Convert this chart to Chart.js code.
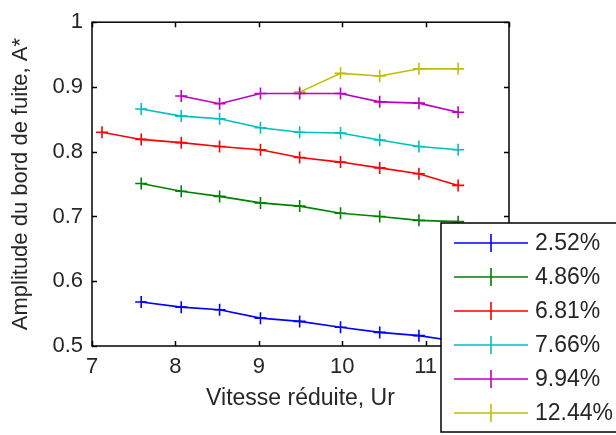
<!DOCTYPE html>
<html>
<head>
<meta charset="utf-8">
<script src="https://cdn.jsdelivr.net/npm/chart.js@4/dist/chart.umd.min.js"></script>
<style>
  html, body { margin: 0; padding: 0; background: #fff; }
  #wrap { width: 616px; height: 435px; }
</style>
</head>
<body>
<div id="wrap"><canvas id="chart" width="616" height="435"></canvas></div>
<script>
// vitesse réduite (Ur) for each measurement
const ur = [7.12, 7.59, 8.07, 8.53, 9.02, 9.49, 9.98, 10.45, 10.92, 11.39];

// amplitude A* per series (null = not measured)
const a252  = [null, 0.568, 0.560, 0.556, 0.543, 0.538, 0.529, 0.521, 0.516, 0.507];
const a486  = [null, 0.751, 0.739, 0.731, 0.721, 0.716, 0.705, 0.700, 0.694, 0.692];
const a681  = [0.830, 0.819, 0.814, 0.808, 0.803, 0.791, 0.784, 0.775, 0.766, 0.748];
const a766  = [null, 0.866, 0.855, 0.851, 0.837, 0.830, 0.829, 0.818, 0.808, 0.803];
const a994  = [null, null, 0.886, 0.874, 0.890, 0.890, 0.890, 0.877, 0.875, 0.861];
const a1244 = [null, null, null, null, null, 0.892, 0.921, 0.917, 0.928, 0.928];

const seriesLabels = ['2.52%', '4.86%', '6.81%', '7.66%', '9.94%', '12.44%'];
const seriesValues = [a252, a486, a681, a766, a994, a1244];
const colors = ['#0000ff', '#008000', '#ff0000', '#00bfbf', '#bf00bf', '#bfbf00'];

const xTicks = [7, 8, 9, 10, 11, 12];
const yTicks = [0.5, 0.6, 0.7, 0.8, 0.9, 1];

const FONT = 'Liberation Sans, Arial, sans-serif';
const TEXT = '#262626';

function toPoints(vals) {
    return ur.map((x, i) => ({ x, y: vals[i] })).filter(p => p.y !== null);
}

const datasets = seriesValues.map((vals, i) => ({
    label: seriesLabels[i],
    data: toPoints(vals),
    borderColor: colors[i],
    backgroundColor: colors[i],
    borderWidth: 1.6,
    showLine: true,
    pointStyle: 'cross',
    pointRadius: 6,
    pointBorderWidth: 1.6,
    pointHoverRadius: 6
}));

// box + inward ticks like matlab axes
const boxTicks = {
    id: 'boxTicks',
    afterDatasetsDraw(chart) {
        const { ctx, chartArea: a, scales: { x, y } } = chart;
        const len = 5;
        ctx.save();
        ctx.strokeStyle = '#000';
        ctx.lineWidth = 1.5;
        ctx.beginPath();
        xTicks.forEach(v => {
            const px = Math.round(x.getPixelForValue(v)) + 0.5;
            ctx.moveTo(px, a.bottom); ctx.lineTo(px, a.bottom - len);
            ctx.moveTo(px, a.top); ctx.lineTo(px, a.top + len);
        });
        yTicks.forEach(v => {
            const py = Math.round(y.getPixelForValue(v)) + 0.5;
            ctx.moveTo(a.left, py); ctx.lineTo(a.left + len, py);
            ctx.moveTo(a.right, py); ctx.lineTo(a.right - len, py);
        });
        ctx.stroke();
        ctx.strokeRect(a.left, a.top, a.right - a.left, a.bottom - a.top);
        ctx.restore();
    }
};

// legend box overlapping the lower right corner
const boxLegend = {
    id: 'boxLegend',
    afterDraw(chart) {
        const { ctx } = chart;
        const bx = 441, by = 223, bw = 190, bh = 209;
        const rowH = 34;
        ctx.save();
        ctx.fillStyle = '#fff';
        ctx.fillRect(bx, by, bw, bh);
        ctx.strokeStyle = '#000';
        ctx.lineWidth = 1.5;
        ctx.strokeRect(bx, by, bw, bh);
        ctx.font = '23px ' + FONT;
        ctx.textBaseline = 'middle';
        ctx.fillStyle = TEXT;
        chart.data.datasets.forEach((ds, i) => {
            const cy = by + 20 + i * rowH;
            ctx.strokeStyle = ds.borderColor;
            ctx.lineWidth = 1.6;
            ctx.beginPath();
            ctx.moveTo(454, cy); ctx.lineTo(528, cy);
            ctx.moveTo(491, cy - 9); ctx.lineTo(491, cy + 9);
            ctx.stroke();
            ctx.fillText(ds.label, 535, cy + 1);
        });
        ctx.restore();
    }
};

new Chart(document.getElementById('chart'), {
    type: 'scatter',
    data: { datasets },
    options: {
        responsive: false,
        animation: false,
        layout: { padding: { top: 14, right: 107, left: 0, bottom: 0 } },
        plugins: {
            legend: { display: false },
            tooltip: { enabled: false }
        },
        scales: {
            x: {
                type: 'linear',
                min: 7, max: 12,
                afterBuildTicks(s) { s.ticks = xTicks.map(v => ({ value: v })); },
                afterFit(s) { s.height = 89; },
                grid: { display: false, drawTicks: false },
                border: { display: false },
                ticks: { color: TEXT, font: { family: FONT, size: 22 }, padding: 8, maxRotation: 0 },
                title: {
                    display: true, text: 'Vitesse réduite, Ur', color: TEXT,
                    font: { family: FONT, size: 23 }, padding: { top: 0, bottom: 23 }
                }
            },
            y: {
                min: 0.5, max: 1,
                afterBuildTicks(s) { s.ticks = yTicks.map(v => ({ value: v })); },
                afterFit(s) { s.width = 92; },
                grid: { display: false, drawTicks: false },
                border: { display: false },
                ticks: {
                    color: TEXT, font: { family: FONT, size: 22 }, padding: 9,
                    callback: v => String(v)
                },
                title: {
                    display: true, text: 'Amplitude du bord de fuite, A*', color: TEXT,
                    font: { family: FONT, size: 22 }, padding: { top: 8, bottom: 0 }
                }
            }
        }
    },
    plugins: [boxTicks, boxLegend]
});
</script>
</body>
</html>
